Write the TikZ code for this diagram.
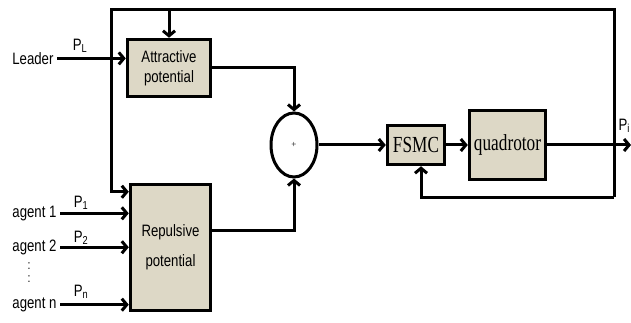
\documentclass[tikz,border=0pt]{standalone}
\usepackage{fontspec}
\setmainfont{Liberation Serif}
\newfontfamily\narrowsans[FakeStretch=0.8]{Liberation Sans}
\newfontfamily\narrowserif[FakeStretch=0.75]{Liberation Serif}
\usetikzlibrary{arrows.meta, shapes.geometric}
\definecolor{blockfill}{RGB}{221,216,198}

\tikzset{
  block/.style={draw, line width=3.5pt, fill=blockfill, inner sep=0pt, align=center},
  sig/.style={line width=3pt, -{Straight Barb[length=5pt, width=12pt]}},
  lab/.style={font=\narrowsans\fontsize{16.5}{20}\selectfont},
  ctl/.style={font=\narrowserif\fontsize{23}{26}\selectfont},
}

\begin{document}
\begin{tikzpicture}[x=1pt, y=-1pt]
    \useasboundingbox (0,0) rectangle (631,323);

    % blocchi
    \node[block, lab, minimum width=83pt, minimum height=57pt] (attr) at (169,68) {Attractive\\potential};
    \node[block, lab, minimum width=80pt, minimum height=126pt] (rep) at (170.5,247.5) {Repulsive\\[10pt]potential};
    \node[draw, ellipse, line width=3pt, inner sep=0pt, minimum width=46pt, minimum height=64pt,
          font=\fontsize{9}{9}\selectfont] (sum) at (294,145) {+};
    \node[block, ctl, minimum width=57pt, minimum height=39pt] (fsmc) at (416,145) {FSMC};
    \node[block, ctl, minimum width=76pt, minimum height=69pt] (quad) at (507.5,145) {quadrotor};

    % ingressi
    \node[lab, anchor=mid east] (leader) at (57,62) {Leader};
    \node[lab] (pl) at (80,46) {P\textsubscript{L}};
    \node[lab, anchor=mid east] (ag1) at (60,215) {agent 1};
    \node[lab] (p1) at (81,203) {P\textsubscript{1}};
    \node[lab, anchor=mid east] (ag2) at (60,249) {agent 2};
    \node[lab] (p2) at (81,238) {P\textsubscript{2}};
    \node[lab, font=\narrowsans\fontsize{13}{13}\selectfont, align=center] (dots) at (29,273) {:\\:};
    \node[lab, anchor=mid east] (agn) at (60,306) {agent n};
    \node[lab] (pn) at (81,292) {P\textsubscript{n}};

    \draw[sig] (leader.east) -- (leader.east -| attr.west);
    \draw[sig] (ag1.east) -- (ag1.east -| rep.west);
    \draw[sig] (ag2.east) -- (ag2.east -| rep.west);
    \draw[sig] (agn.east) -- (agn.east -| rep.west);

    % somma e catena di controllo
    \draw[sig] (attr.east) -| (sum.north);
    \draw[sig] ([yshift=17pt]rep.east) -| (sum.south);
    \draw[sig] (sum.east) -- (fsmc.west);
    \draw[sig] (fsmc.east) -- (quad.west);

    % uscita
    \coordinate (out) at (631,145);
    \draw[sig] (quad.east) -- (out);
    \node[lab, anchor=west] (pi) at (615,126) {P\textsubscript{i}};

    % retroazione
    \coordinate (tl) at (111,10);
    \coordinate (tr) at (614,10);
    \coordinate (br) at (614,197);
    \draw[sig] (br) -- (tr) -- (tl) |- ([yshift=-9pt]rep.north west);
    \draw[sig] (attr.north |- tl) -- (attr.north);
    \draw[sig] (br) -| ([xshift=5pt]fsmc.south);
\end{tikzpicture}
\end{document}
